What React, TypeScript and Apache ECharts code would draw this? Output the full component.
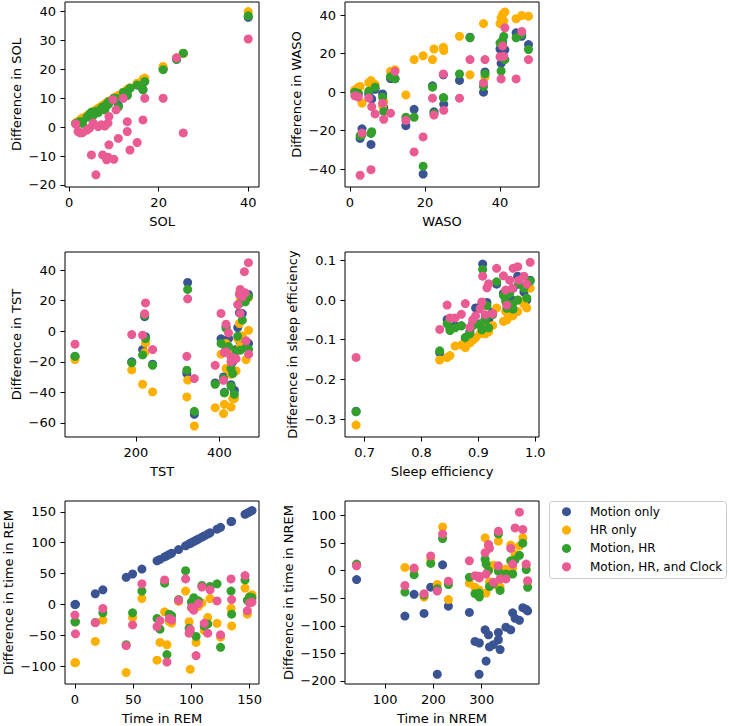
import React, { useEffect, useRef } from 'react';
import * as echarts from 'echarts';

// ---------- series / legend ----------
const SERIES_NAMES = ['Motion only', 'HR only', 'Motion, HR', 'Motion, HR, and Clock'];
const COLORS = ['#3a5393', '#fdb000', '#33a02c', '#e95b92'];

// ---------- SOL ----------
const solX = [1.5, 2.0, 2.5, 3.0, 4.0, 4.6, 5.0, 5.4, 6.0, 6.5, 7.2, 7.5, 8.0, 8.4, 8.7, 8.7, 8.9, 8.9, 9.8, 10.0, 10.5, 11.0, 12.1, 13.0, 13.0, 13.6, 15.2, 16.5, 16.9, 21.0, 24.0, 25.5, 40.0];
const solMotion = [1.3, 1.5, 2.0, 2.0, 3.5, 4.2, 4.8, 4.5, 5.5, 5.5, 6.5, 7.0, 6.5, 8.0, 8.5, 8.0, 8.5, 8.8, 9.6, 10.0, 10.0, 7.5, 12.0, 11.0, 12.5, 13.5, 14.6, 13.0, 16.0, 20.2, 23.5, 25.5, 38.0];
const solHR = [1.5, 2.0, 2.6, 3.2, 4.0, 4.7, 5.0, 5.5, 6.0, 6.6, 7.2, 7.5, 8.0, 8.5, 8.7, 8.8, 8.9, 9.0, 9.8, 10.1, 10.6, 11.0, 12.1, 13.0, 13.1, 13.6, 15.2, 16.6, 17.0, 21.0, 24.0, 25.5, 40.0];
const solMotionHR = [1.3, 1.5, 2.0, 1.3, 3.5, 4.5, 5.2, 4.0, 5.5, 5.0, 6.5, 7.0, 6.0, 8.0, 8.5, 7.8, 8.3, 8.8, 9.5, 10.0, 10.0, 7.0, 12.0, 11.0, 12.5, 13.5, 14.6, 12.9, 15.8, 19.9, 23.5, 25.6, 38.5];
const solClock = [1.1, -1.5, -2.0, -1.9, -1.0, -0.3, -9.6, 1.4, -16.5, 0.2, 0.8, -9.6, 0.4, -11.3, -10.4, 1.4, 3.7, -6.1, 9.5, -11.1, 6.0, -3.9, 10.0, -1.5, 1.9, -7.9, -5.3, 2.5, 10.0, 10.0, 24.0, -2.0, 30.5];

// ---------- WASO ----------
const wasoX = [1.3, 2.2, 2.7, 3.2, 5.0, 5.6, 5.8, 6.7, 8.7, 9.0, 10.8, 12.0, 14.9, 17.1, 19.5, 22.0, 22.4, 24.9, 25.0, 29.2, 32.0, 35.6, 36.0, 40.0, 40.3, 40.7, 41.0, 41.3, 44.3, 45.8, 47.6];
const wasoMotion = [0.5, -1.0, -24.0, -19.0, -1.0, -27.1, -3.5, 1.5, -0.9, -8.0, 7.1, 7.0, -17.4, -8.9, -42.5, 3.3, -10.2, 9.0, -6.3, 6.1, 28.5, 0.0, 10.5, 22.4, 15.0, 25.9, 17.0, 22.0, 30.8, 29.0, 24.7];
const wasoHR = [1.2, 2.5, 3.0, -5.7, 5.0, 6.0, 4.5, 4.0, -7.1, -5.0, 10.8, 11.6, -1.4, 16.9, 18.9, 16.9, 22.4, 23.3, 21.6, 29.0, 9.0, 35.6, 7.8, 35.6, 38.6, 40.4, 37.0, 41.6, 38.1, 39.8, 39.4];
const wasoMotionHR = [0.0, -0.5, -22.6, -22.0, 0.5, -21.4, -20.5, 2.6, -2.6, -10.0, 8.0, 7.0, -13.0, -13.0, -38.4, 2.6, -11.0, -2.8, -3.0, 9.5, 28.2, 3.0, 9.5, 25.5, 11.0, 26.9, 29.0, 16.9, 28.2, 30.0, 22.1];
const wasoClock = [-1.9, -2.5, -43.1, -21.2, -3.0, -40.2, -7.5, -11.3, -5.7, -14.1, -10.9, 10.8, -14.6, -31.0, -23.2, -3.1, -11.9, 9.5, -9.4, -3.1, 16.9, 4.8, 16.9, 18.4, 6.9, 24.0, 18.6, 33.4, 6.9, 31.5, 16.9];

// ---------- TST ----------
const tstX = [54, 190, 216, 221, 223, 240, 322, 324, 340, 469.6, 460, 450, 462, 448, 455, 444, 450, 404, 416, 422, 464, 470, 416, 428, 432, 390, 410, 436, 412, 428, 440];
const tstMotion = [-16.5, -20.0, -12.0, 9.5, -3.6, -21.6, -27.7, 31.9, -54.4, 24, 23, 25, 21, 12, 11.5, 2.4, -7, -5, 3, -4.8, -10, -8, -12, -15, -20, -33.8, -29.9, -38.6, -40, -35, -12];
const tstHR = [-18.5, -25.3, -34.7, -14, -7.8, -39.7, -43, -32, -62, 22, 20, 22, 20, 5, -3, -5, -10, -15, -8, -12, -18.6, 0.6, -24.4, -28.2, -44.1, -50, -53.9, -44.1, -47.8, -49.6, -26];
const tstMotionHR = [-16.4, -20.7, -15.5, 10.3, -4.8, -22.3, -25.5, 27.3, -52.4, 22.5, 21, 26, 19.2, 18.1, 7.2, -3.3, -12.4, -8, 2, -10, -10.7, -12, -12.4, -24.4, -27.7, -34.7, -31, -41.3, -40.4, -36, -13];
const tstClock = [-8.5, -2.2, -2.6, 11.4, 18.5, -12.0, -16.4, 21.2, -31, 44.8, 38.9, 27.3, 25.1, 24.2, 22.5, 17.4, 11.6, 11.6, 4.6, -1.1, -6.3, -15, -13.5, -16.8, -19, -22.3, -32.1, -18, -14, -20, -18];

// ---------- Sleep efficiency ----------
const seX = [0.685, 0.832, 0.845, 0.850, 0.859, 0.870, 0.877, 0.885, 0.890, 0.895, 0.903, 0.906, 0.9075, 0.915, 0.918, 0.912, 0.925, 0.932, 0.944, 0.948, 0.950, 0.955, 0.961, 0.969, 0.971, 0.980, 0.991, 0.985, 0.960];
const seMotion = [-0.28, -0.133, -0.049, -0.07, -0.065, -0.065, -0.097, -0.08, -0.06, -0.02, -0.06, -0.01, 0.0907, -0.006, -0.05, -0.045, -0.03, 0.04, 0.017, 0.004, -0.01, 0.02, 0.03, 0.06, 0.04, 0.02, 0.05, 0.0, 0.0];
const seHR = [-0.315, -0.151, -0.145, -0.14, -0.116, -0.113, -0.12, -0.108, -0.101, -0.095, -0.085, -0.07, -0.06, -0.073, -0.08, -0.085, -0.064, -0.02, -0.054, -0.029, -0.05, -0.025, -0.037, -0.029, 0.0, -0.01, 0.03, -0.02, -0.04];
const seMotionHR = [-0.2815, -0.128, -0.06, -0.077, -0.07, -0.065, -0.094, -0.085, -0.065, -0.06, -0.062, -0.075, 0.077, -0.014, -0.07, -0.05, -0.037, 0.046, 0.012, -0.004, -0.021, 0.016, -0.023, 0.0, 0.042, 0.03, 0.048, 0.005, -0.01];
const seClock = [-0.1445, -0.074, -0.0126, -0.045, -0.045, -0.036, -0.009, -0.069, -0.05, -0.04, -0.022, -0.005, 0.060, 0.031, 0.041, -0.037, -0.034, 0.080, 0.061, 0.025, -0.013, 0.05, 0.080, 0.084, 0.05, 0.06, 0.095, 0.04, 0.03];

// ---------- REM ----------
const remX = [0, 0.5, 17.5, 24, 44, 49.5, 57.5, 70.5, 73, 77, 79, 81, 83, 89, 95, 98, 99, 100, 102, 104, 106, 109, 111, 114, 116, 122, 125, 134, 134.5, 146, 148, 150, 152];
const remMotion = [0, 0.3, 17.5, 23.9, 44.1, 49.4, 57.4, 70.7, 73, 77, 79, 81, 83, 89, 95, 98, 99, 100, 102, 104, 106, 109, 111, 114, 116, 122, 125, 134, 134.5, 146, 148, 150, 152];
const remHR = [-94, -94, -59.6, -25, -110, -20.8, 9.6, -89.9, -61.2, -11.7, -65, -27.7, -30, 5, 21.8, -27.7, -104.8, -5, 2, -61.2, -3, 2.6, -42, -20.8, 9.6, -30.3, -52.7, -6.4, -34.6, 26.6, -15.5, 13.3, 16];
const remMotionHR = [-28, -28, -29, -13.3, -65, -13.3, 21.8, -22.4, -39.9, 34.5, -80.9, -15.5, -18, 8, 54.8, -38.3, -45, 4.2, 11.1, -51.6, 6, 30.8, -35, -31.4, 29.2, 33.5, -69.2, 21.8, -15.5, 39.9, 6.9, 12.2, 11];
const remClock = [-17, -47.4, -29.3, -6.4, -66.5, -33, 33.5, -35.7, -26.1, 39.9, -93.1, -22.4, -25, 6.9, 41.5, -46.3, -40, -4.8, -9.1, -82.5, 1.6, 28.2, -30.3, -46.3, 23.9, 5.8, -49, 41.5, 8, 46.8, -10.1, 2.6, 4];

// ---------- NREM ----------
const nremX = [41, 141, 160, 180.6, 194.4, 208, 219, 231, 274.4, 286, 295, 294.5, 307, 309, 314, 316, 324, 334.4, 334.4, 338, 350, 360, 364, 369, 378, 385, 392, 395];
const nremMotion = [-16.1, -82.2, -42.9, -77.5, -29.8, -187.8, 10.8, -64.4, -75.7, -128.2, -131.1, -187.8, -107.3, -163.9, -116.2, -138.3, -134.1, -112, -125.2, -143.1, -102.5, -107.3, -76.3, -86.4, -90, -67, -70, -73];
const nremHR = [10, 6, 2, -47.7, 20, -25, 79.4, -52.4, -22.6, -30, -45, -35, 59.7, -40.5, 45, -20, 10, 53.7, -28.6, -30, 3, 46.6, 5, 30, 45, 60, 10, -20];
const nremMotionHR = [12, -38.7, -7.1, -44, 13.2, -32.7, 58.5, -25, -11.9, -41.7, -47.7, -40.5, 20.9, 12, 0, -28.6, -23.8, 66.8, -1, -35.7, -5.9, 18, -5.9, 20, 28, 50, 2, -30];
const nremClock = [9, -26.8, 4.8, -41.7, 26.9, -37, 66.8, -19, 17.9, -8.9, -13, -10, 32.8, -6, 47.8, 40.6, -21, 71.6, 9, -15, -14.9, 40.6, 12, 77.6, 106.2, 75, 12, -18];

// ---------- tick values ----------
const solXTicks = [0, 20, 40];
const solYTicks = [-20, -10, 0, 10, 20, 30, 40];
const wasoXTicks = [0, 20, 40];
const wasoYTicks = [-40, -20, 0, 20, 40];
const tstXTicks = [200, 400];
const tstYTicks = [-60, -40, -20, 0, 20, 40];
const seXTicks = [0.7, 0.8, 0.9, 1.0];
const seYTicks = [-0.3, -0.2, -0.1, 0.0, 0.1];
const remXTicks = [0, 50, 100, 150];
const remYTicks = [-100, -50, 0, 50, 100, 150];
const nremXTicks = [100, 200, 300];
const nremYTicks = [-200, -150, -100, -50, 0, 50, 100];

const FONT = 'DejaVu Sans';

type Panel = {
  x: number[];
  ys: number[][];
  xName: string;
  yName: string;
  xRange: [number, number];
  yRange: [number, number];
  xTicks: number[];
  yTicks: number[];
  xDec: number;
  yDec: number;
  left: number;
  top: number;
  yNameGap: number;
};

const COL_LEFT = [65, 345];
const ROW_TOP = [2, 252, 501];
const GRID_W = 194;
const GRID_H = 185;

const panels: Panel[] = [
  { x: solX, ys: [solMotion, solHR, solMotionHR, solClock], xName: 'SOL', yName: 'Difference in SOL', xRange: [-0.9, 42.4], yRange: [-20.7, 43.3], xTicks: solXTicks, yTicks: solYTicks, xDec: 0, yDec: 0, left: COL_LEFT[0], top: ROW_TOP[0], yNameGap: 42 },
  { x: wasoX, ys: [wasoMotion, wasoHR, wasoMotionHR, wasoClock], xName: 'WASO', yName: 'Difference in WASO', xRange: [-1.33, 50.4], yRange: [-49.2, 46.8], xTicks: wasoXTicks, yTicks: wasoYTicks, xDec: 0, yDec: 0, left: COL_LEFT[1], top: ROW_TOP[0], yNameGap: 42 },
  { x: tstX, ys: [tstMotion, tstHR, tstMotionHR, tstClock], xName: 'TST', yName: 'Difference in TST', xRange: [30, 495], yRange: [-69.2, 51.8], xTicks: tstXTicks, yTicks: tstYTicks, xDec: 0, yDec: 0, left: COL_LEFT[0], top: ROW_TOP[1], yNameGap: 42 },
  { x: seX, ys: [seMotion, seHR, seMotionHR, seClock], xName: 'Sleep efficiency', yName: 'Difference in sleep efficiency', xRange: [0.6655, 1.0065], yRange: [-0.345, 0.121], xTicks: seXTicks, yTicks: seYTicks, xDec: 1, yDec: 1, left: COL_LEFT[1], top: ROW_TOP[1], yNameGap: 46 },
  { x: remX, ys: [remMotion, remHR, remMotionHR, remClock], xName: 'Time in REM', yName: 'Difference in time in REM', xRange: [-8.5, 158], yRange: [-128.5, 167.5], xTicks: remXTicks, yTicks: remYTicks, xDec: 0, yDec: 0, left: COL_LEFT[0], top: ROW_TOP[2], yNameGap: 50 },
  { x: nremX, ys: [nremMotion, nremHR, nremMotionHR, nremClock], xName: 'Time in NREM', yName: 'Difference in time in NREM', xRange: [17, 418.5], yRange: [-205.5, 126.5], xTicks: nremXTicks, yTicks: nremYTicks, xDec: 0, yDec: 0, left: COL_LEFT[1], top: ROW_TOP[2], yNameGap: 50 },
];

function fmt(v: number, dec: number): string {
  const s = Math.abs(v).toFixed(dec);
  if (v < 0 && Math.abs(v) > 1e-9) return '\u2212' + s;
  return s;
}

function buildOption() {
  const grid: any[] = [];
  const xAxis: any[] = [];
  const yAxis: any[] = [];
  const series: any[] = [];
  const textStyle = { fontSize: 13, color: '#000', fontFamily: FONT };

  panels.forEach((p, i) => {
    grid.push({
      left: p.left,
      top: p.top,
      width: GRID_W,
      height: GRID_H,
      show: true,
      borderColor: '#000',
      borderWidth: 1,
      backgroundColor: 'transparent',
      containLabel: false,
    });
    xAxis.push({
      gridIndex: i,
      type: 'value',
      position: 'bottom',
      min: p.xRange[0],
      max: p.xRange[1],
      name: p.xName,
      nameLocation: 'middle',
      nameGap: 28,
      nameTextStyle: textStyle,
      axisLine: { show: false, onZero: false },
      axisTick: { show: true, inside: false, length: 4.5, lineStyle: { color: '#000', width: 1 }, customValues: p.xTicks },
      axisLabel: { show: true, margin: 9, ...textStyle, customValues: p.xTicks, formatter: (v: number) => fmt(v, p.xDec) },
      splitLine: { show: false },
    });
    yAxis.push({
      gridIndex: i,
      type: 'value',
      position: 'left',
      min: p.yRange[0],
      max: p.yRange[1],
      name: p.yName,
      nameLocation: 'middle',
      nameGap: p.yNameGap,
      nameRotate: 90,
      nameTextStyle: textStyle,
      axisLine: { show: false, onZero: false },
      axisTick: { show: true, inside: false, length: 4.5, lineStyle: { color: '#000', width: 1 }, customValues: p.yTicks },
      axisLabel: { show: true, margin: 9, ...textStyle, customValues: p.yTicks, formatter: (v: number) => fmt(v, p.yDec) },
      splitLine: { show: false },
    });
    p.ys.forEach((ys, k) => {
      series.push({
        type: 'scatter',
        name: SERIES_NAMES[k],
        xAxisIndex: i,
        yAxisIndex: i,
        data: p.x.map((xv, j) => [xv, ys[j]]),
        symbol: 'circle',
        symbolSize: 9,
        itemStyle: { color: COLORS[k], opacity: 1 },
        emphasis: { disabled: true },
        silent: true,
      });
    });
  });

  const legendTop = 511.7;
  const legendStep = 18.35;
  const graphic: any[] = [
    {
      type: 'rect',
      shape: { x: 549.5, y: 501.5, width: 177, height: 77, r: 3 },
      style: { fill: 'rgba(255,255,255,0.8)', stroke: '#cccccc', lineWidth: 1 },
    },
  ];
  SERIES_NAMES.forEach((n, k) => {
    graphic.push({
      type: 'circle',
      shape: { cx: 566.5, cy: legendTop + k * legendStep, r: 4.5 },
      style: { fill: COLORS[k] },
    });
    graphic.push({
      type: 'text',
      x: 590,
      y: legendTop + k * legendStep,
      style: { text: n, fontSize: 12, fontFamily: FONT, fill: '#000', align: 'left', verticalAlign: 'middle' },
    });
  });

  return {
    animation: false,
    backgroundColor: '#fff',
    textStyle: { fontFamily: FONT },
    grid,
    xAxis,
    yAxis,
    series,
    graphic,
  };
}

export default function App() {
  const ref = useRef<HTMLDivElement>(null);
  useEffect(() => {
    if (!ref.current) return;
    const chart = echarts.init(ref.current, null, { renderer: 'svg' });
    chart.setOption(buildOption());
    return () => chart.dispose();
  }, []);
  return (
    <div
      ref={ref}
      style={{ position: 'absolute', left: 0, top: 0, width: 729, height: 726 }}
    />
  );
}
